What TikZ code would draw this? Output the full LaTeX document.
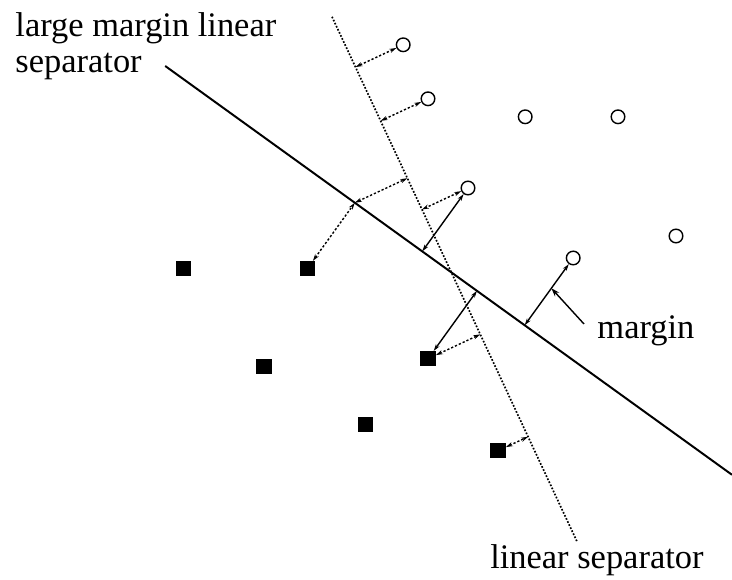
\documentclass[tikz,border=0pt]{standalone}
\usepackage{fontspec}
\setmainfont{Liberation Serif}
\usetikzlibrary{arrows.meta,calc}

\begin{document}
\begin{tikzpicture}[font=\fontsize{24.5}{25}\selectfont,
	posdot/.style={circle,draw,line width=1pt,inner sep=0pt,minimum size=0.34cm},
	negbox/.style={rectangle,fill=black,inner sep=0pt,minimum size=0.38cm},
	gap/.style={{Stealth[length=5pt,width=3pt]}-{Stealth[length=5pt,width=3pt]},line width=1pt},
	gapdot/.style={gap,dash pattern=on 1.6pt off 1.4pt}]
	\useasboundingbox (0,0) rectangle (18.3,14.5);
	% Separators
	\coordinate (lm1) at (4.13,12.85);
	\coordinate (lm2) at (18.30,2.63);
	\coordinate (ls1) at (8.30,14.08);
	\coordinate (ls2) at (14.43,0.95);
	\draw[line width=1.4pt] (lm1) -- (lm2);
	\draw[line width=1.2pt,dash pattern=on 1.2pt off 1.2pt] (ls1) -- (ls2);
	% Positive examples
	\node[posdot] (c1) at (10.08,13.38) {};
	\node[posdot] (c2) at (10.70,12.03) {};
	\node[posdot] (c3) at (13.13,11.58) {};
	\node[posdot] (c4) at (15.45,11.58) {};
	\node[posdot] (c5) at (11.70,9.80) {};
	\node[posdot] (c6) at (14.33,8.05) {};
	\node[posdot] (c7) at (16.90,8.60) {};
	% Negative examples
	\node[negbox] (s1) at (4.58,7.78) {};
	\node[negbox] (s2) at (7.68,7.78) {};
	\node[negbox] (s3) at (6.60,5.33) {};
	\node[negbox] (s4) at (10.70,5.53) {};
	\node[negbox] (s5) at (9.13,3.88) {};
	\node[negbox] (s6) at (12.45,3.23) {};
	% Distances to the linear separator
	\draw[gapdot] (c1) -- ($(ls1)!(c1)!(ls2)$);
	\draw[gapdot] (c2) -- ($(ls1)!(c2)!(ls2)$);
	\draw[gapdot] (c5) -- ($(ls1)!(c5)!(ls2)$);
	\draw[gapdot] (s4) -- ($(ls1)!(s4)!(ls2)$);
	\draw[gapdot] (s6) -- ($(ls1)!(s6)!(ls2)$);
	\coordinate (f2) at ($(lm1)!(s2)!(lm2)$);
	\draw[gapdot] (s2) -- (f2);
	\draw[gapdot] (f2) -- ($(ls1)!(f2)!(ls2)$);
	% Margins of the large margin separator
	\coordinate (f6) at ($(lm1)!(c6)!(lm2)$);
	\draw[gap] (c5) -- ($(lm1)!(c5)!(lm2)$);
	\draw[gap] (s4) -- ($(lm1)!(s4)!(lm2)$);
	\draw[gap] (c6) -- (f6);
	% Labels
	\node[anchor=north west,align=left,inner sep=0pt] (lmlabel) at (0.38,14.18) {large margin linear\\separator};
	\node[anchor=base west,inner sep=0pt] (lslabel) at (12.25,0.28) {linear separator};
	\node[anchor=base west,inner sep=0pt] (mlabel) at (14.93,6.03) {margin};
	\coordinate (mtail) at (14.60,6.40);
	\draw[-{Stealth[length=6pt,width=4pt]},line width=1pt] (mtail) -- ($(c6)!0.45!(f6)$);
\end{tikzpicture}
\end{document}
